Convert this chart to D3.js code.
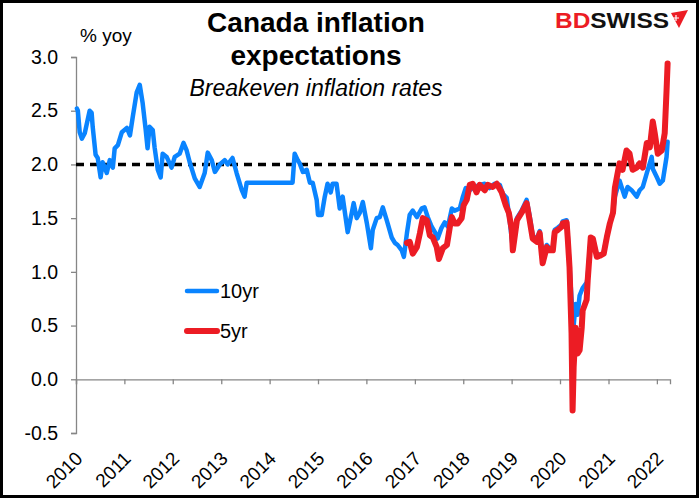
<!DOCTYPE html>
<html>
<head>
<meta charset="utf-8">
<script src="https://cdn.jsdelivr.net/npm/d3@7"></script>
<style>
  body { margin: 0; background: #fff; }
  svg { display: block; font-family: "Liberation Sans", Arial, sans-serif; }
</style>
</head>
<body>
<svg id="chart" width="700" height="499"></svg>
<script>
// 10yr breakeven
const dates10 = ["2010-01-08","2010-01-15","2010-01-29","2010-02-14","2010-03-08","2010-04-14","2010-04-29","2010-05-07","2010-05-29","2010-06-14",
  "2010-07-06","2010-07-21","2010-08-21","2010-09-13","2010-10-06","2010-10-20","2010-11-13","2010-12-13","2011-01-20","2011-02-12",
  "2011-03-05","2011-04-04","2011-04-27","2011-05-19","2011-06-11","2011-06-25","2011-07-10","2011-08-03","2011-08-17","2011-09-10",
  "2011-10-02","2011-10-17","2011-11-16","2011-12-23","2012-01-16","2012-02-22","2012-03-22","2012-04-15","2012-05-08","2012-06-15",
  "2012-07-22","2012-08-29","2012-09-21","2012-10-21","2012-11-14","2012-12-21","2013-01-27","2013-02-19","2013-03-27","2013-04-27",
  "2013-06-05","2013-06-26","2013-07-12","2014-06-23","2014-07-09","2014-08-01","2014-08-16","2014-09-09","2014-10-08","2014-11-01",
  "2014-11-22","2014-12-22","2015-01-01","2015-01-29","2015-02-21","2015-03-14","2015-04-07","2015-04-21","2015-05-21","2015-06-14",
  "2015-07-06","2015-08-13","2015-09-13","2015-09-27","2015-10-20","2015-11-12","2015-12-05","2016-01-05","2016-02-04","2016-02-18",
  "2016-03-19","2016-04-11","2016-05-04","2016-06-03","2016-07-10","2016-08-03","2016-08-24","2016-09-24","2016-10-10","2016-11-02",
  "2016-11-23","2016-12-16","2017-01-16","2017-02-22","2017-03-15","2017-04-08","2017-05-08","2017-06-01","2017-06-22","2017-07-21",
  "2017-08-14","2017-09-07","2017-10-07","2017-10-28","2017-12-06","2017-12-27","2018-01-20","2018-02-19","2018-03-26","2018-05-05",
  "2018-06-12","2018-07-18","2018-08-25","2018-10-04","2018-10-25","2018-11-25","2018-12-17","2019-01-10","2019-02-10","2019-03-17",
  "2019-04-24","2019-05-17","2019-06-09","2019-07-09","2019-08-01","2019-08-23","2019-09-23","2019-10-15","2019-11-08","2019-11-22",
  "2019-12-15","2020-01-14","2020-01-21","2020-02-20","2020-02-28","2020-03-13","2020-03-28","2020-04-13","2020-04-28","2020-05-13",
  "2020-05-28","2020-06-20","2020-07-20","2020-07-28","2020-08-20","2020-09-05","2020-10-05","2020-10-27","2020-11-26","2020-12-19",
  "2021-01-11","2021-02-04","2021-02-18","2021-03-25","2021-05-03","2021-05-25","2021-06-24","2021-08-02","2021-08-24","2021-09-17",
  "2021-10-17","2021-11-23","2021-12-01","2022-01-01","2022-01-23","2022-02-15","2022-03-15","2022-03-23"];
const values10 = [2.52,2.50,2.30,2.24,2.29,2.50,2.48,2.35,2.09,2.06,
  1.88,2.02,1.92,2.04,1.97,2.15,2.18,2.30,2.34,2.27,
  2.44,2.67,2.74,2.57,2.32,2.15,2.35,2.32,2.16,1.95,
  1.88,2.10,2.07,1.97,2.07,2.10,2.20,2.13,2.02,1.87,
  1.79,1.92,2.11,2.04,1.93,2.00,2.04,2.00,2.06,1.92,
  1.76,1.70,1.83,1.83,2.10,2.04,2.01,1.93,1.95,1.83,
  1.83,1.67,1.53,1.53,1.70,1.82,1.74,1.82,1.82,1.59,
  1.70,1.37,1.55,1.64,1.50,1.55,1.65,1.45,1.22,1.39,
  1.50,1.51,1.60,1.48,1.32,1.27,1.25,1.20,1.14,1.36,
  1.53,1.57,1.51,1.59,1.60,1.51,1.42,1.37,1.31,1.41,
  1.46,1.42,1.59,1.57,1.59,1.69,1.78,1.76,1.79,1.81,
  1.82,1.78,1.82,1.81,1.73,1.69,1.48,1.22,1.50,1.57,
  1.67,1.52,1.34,1.30,1.38,1.12,1.25,1.22,1.22,1.39,
  1.41,1.44,1.47,1.48,1.35,1.05,0.75,0.50,0.70,0.60,
  0.78,0.85,0.90,0.95,1.32,1.31,1.15,1.16,1.18,1.33,
  1.45,1.55,1.70,1.85,1.70,1.79,1.76,1.70,1.76,1.79,
  1.92,2.07,1.96,1.88,1.82,1.85,2.07,2.21];

// 5yr breakeven
const dates5 = ["2016-11-02","2016-11-23","2016-12-16","2017-01-16","2017-02-08","2017-03-02","2017-04-01","2017-04-24","2017-05-16","2017-06-15",
  "2017-07-01","2017-07-31","2017-08-31","2017-09-22","2017-10-07","2017-10-28","2017-11-20","2017-12-20","2018-01-04","2018-01-27",
  "2018-02-19","2018-03-13","2018-04-11","2018-05-05","2018-06-12","2018-07-04","2018-08-11","2018-09-11","2018-10-18","2018-11-18",
  "2018-12-11","2019-01-02","2019-01-10","2019-02-10","2019-03-17","2019-04-24","2019-05-17","2019-06-09","2019-07-09","2019-08-01",
  "2019-08-23","2019-09-23","2019-10-15","2019-11-08","2019-11-22","2019-12-15","2020-01-14","2020-01-21","2020-02-20","2020-02-28",
  "2020-03-13","2020-03-28","2020-04-05","2020-04-13","2020-04-28","2020-05-13","2020-05-28","2020-06-13","2020-06-20","2020-07-20",
  "2020-07-28","2020-08-20","2020-09-05","2020-10-05","2020-10-27","2020-11-26","2020-12-19","2021-01-11","2021-02-04","2021-02-18",
  "2021-03-11","2021-03-25","2021-04-17","2021-05-17","2021-06-09","2021-07-02","2021-08-02","2021-08-24","2021-09-17","2021-10-17",
  "2021-11-09","2021-12-01","2021-12-16","2022-01-08","2022-02-07","2022-03-01","2022-03-15","2022-03-23"];
const values5 = [1.27,1.28,1.17,1.23,1.36,1.50,1.48,1.34,1.32,1.23,
  1.12,1.22,1.25,1.42,1.51,1.45,1.45,1.50,1.62,1.67,
  1.81,1.82,1.74,1.81,1.76,1.81,1.79,1.82,1.74,1.62,
  1.55,1.39,1.20,1.48,1.55,1.64,1.48,1.31,1.28,1.36,
  1.08,1.23,1.20,1.20,1.37,1.39,1.42,1.45,1.46,1.32,
  1.04,0.43,-0.29,0.11,0.48,0.24,0.27,0.48,0.64,0.74,
  0.92,1.32,1.31,1.14,1.15,1.17,1.32,1.45,1.55,1.78,
  1.92,2.01,1.95,2.13,2.10,1.95,1.97,2.01,1.97,2.20,
  2.16,2.40,2.29,2.10,2.13,2.29,2.69,2.94];

const yTicks = [-0.5, 0.0, 0.5, 1.0, 1.5, 2.0, 2.5, 3.0];
const yearTicks = d3.range(2010, 2023);
const target = 2.0;

const parse = d3.timeParse("%Y-%m-%d");
const series10 = dates10.map((d, i) => ({ date: parse(d), value: values10[i] }));
const series5 = dates5.map((d, i) => ({ date: parse(d), value: values5[i] }));

const svg = d3.select("#chart");
const axisColor = "#868686";

const x = d3.scaleTime()
  .domain([new Date(2010, 0, 1), new Date(2022, 3, 10)])
  .range([76, 670]);
const y = d3.scaleLinear().domain([-0.5, 3.0]).range([433, 57]);

// y axis
const yAxis = svg.append("g")
  .attr("transform", "translate(76,0)")
  .call(d3.axisLeft(y).tickValues(yTicks).tickFormat(d => d3.format(".1f")(d).replace("−", "-")).tickSize(5).tickPadding(13));
yAxis.select(".domain").attr("stroke", axisColor).attr("stroke-width", 1.3);
yAxis.selectAll(".tick line").attr("stroke", axisColor).attr("stroke-width", 1.3);
yAxis.selectAll(".tick text").attr("font-size", 19.5).attr("fill", "#000")
  .attr("font-family", "Liberation Sans, Arial, sans-serif");

// x axis at zero, labels at bottom
const xAxis = svg.append("g")
  .attr("transform", `translate(0,${y(0)})`)
  .call(d3.axisBottom(x).tickValues(yearTicks.map(yr => new Date(yr, 0, 1))).tickSizeOuter(0).tickSize(5).tickFormat(""));
xAxis.select(".domain").attr("stroke", axisColor).attr("stroke-width", 1.3);
xAxis.selectAll(".tick line").attr("stroke", axisColor).attr("stroke-width", 1.3);

svg.append("g").selectAll("text")
  .data(yearTicks)
  .join("text")
  .attr("transform", d => `translate(${x(new Date(d, 0, 1)) + 3},455) rotate(-45)`)
  .attr("text-anchor", "end")
  .attr("dy", "0.35em")
  .attr("font-size", 19)
  .text(d => d);

// 2% line
svg.append("line")
  .attr("x1", x(new Date(2010, 0, 1)))
  .attr("x2", x(new Date(2022, 2, 1)))
  .attr("y1", y(target)).attr("y2", y(target))
  .attr("stroke", "#000")
  .attr("stroke-width", 3.5)
  .attr("stroke-dasharray", "8,6");

const line = d3.line().x(d => x(d.date)).y(d => y(d.value));

svg.append("path")
  .datum(series10)
  .attr("fill", "none")
  .attr("stroke", "#0a84ff")
  .attr("stroke-width", 4.5)
  .attr("stroke-linejoin", "round")
  .attr("stroke-linecap", "round")
  .attr("d", line);

svg.append("path")
  .datum(series5)
  .attr("fill", "none")
  .attr("stroke", "#ec1c24")
  .attr("stroke-width", 6)
  .attr("stroke-linejoin", "round")
  .attr("stroke-linecap", "round")
  .attr("d", line);

// legend
const legend = [
  { name: "10yr", color: "#0a84ff", w: 4.5, y: 291 },
  { name: "5yr", color: "#ec1c24", w: 6, y: 331 }
];
legend.forEach(l => {
  svg.append("line")
    .attr("x1", 187).attr("x2", 217).attr("y1", l.y).attr("y2", l.y)
    .attr("stroke", l.color).attr("stroke-width", l.w).attr("stroke-linecap", "round");
  svg.append("text")
    .attr("x", 220).attr("y", l.y + 7)
    .attr("font-size", 20)
    .text(l.name);
});

// titles
svg.append("text").attr("x", 316).attr("y", 32).attr("text-anchor", "middle")
  .attr("font-size", 28).attr("font-weight", "bold").text("Canada inflation");
svg.append("text").attr("x", 316).attr("y", 65).attr("text-anchor", "middle")
  .attr("font-size", 28).attr("font-weight", "bold").text("expectations");
svg.append("text").attr("x", 316).attr("y", 96).attr("text-anchor", "middle")
  .attr("font-size", 23).attr("font-style", "italic").text("Breakeven inflation rates");
svg.append("text").attr("x", 80).attr("y", 42).attr("font-size", 19).text("% yoy");

// logo
const logo = svg.append("text").attr("x", 555).attr("y", 28)
  .attr("font-size", 22).attr("font-weight", "bold")
  .attr("textLength", 114).attr("lengthAdjust", "spacingAndGlyphs");
logo.append("tspan").attr("fill", "#ec1c24").text("BD");
logo.append("tspan").attr("fill", "#111").text("SWISS");
svg.append("path")
  .attr("d", "M671,13 L688,10 L679,28 Z")
  .attr("fill", "#ec1c24");
svg.append("path")
  .attr("d", "M676,15 L676,21 M673,18 L679,18")
  .attr("stroke", "#fff").attr("stroke-width", 1.2);

// frame
svg.append("rect")
  .attr("x", 1.5).attr("y", 1.5).attr("width", 696).attr("height", 495)
  .attr("fill", "none").attr("stroke", "#000").attr("stroke-width", 3);
</script>
</body>
</html>
